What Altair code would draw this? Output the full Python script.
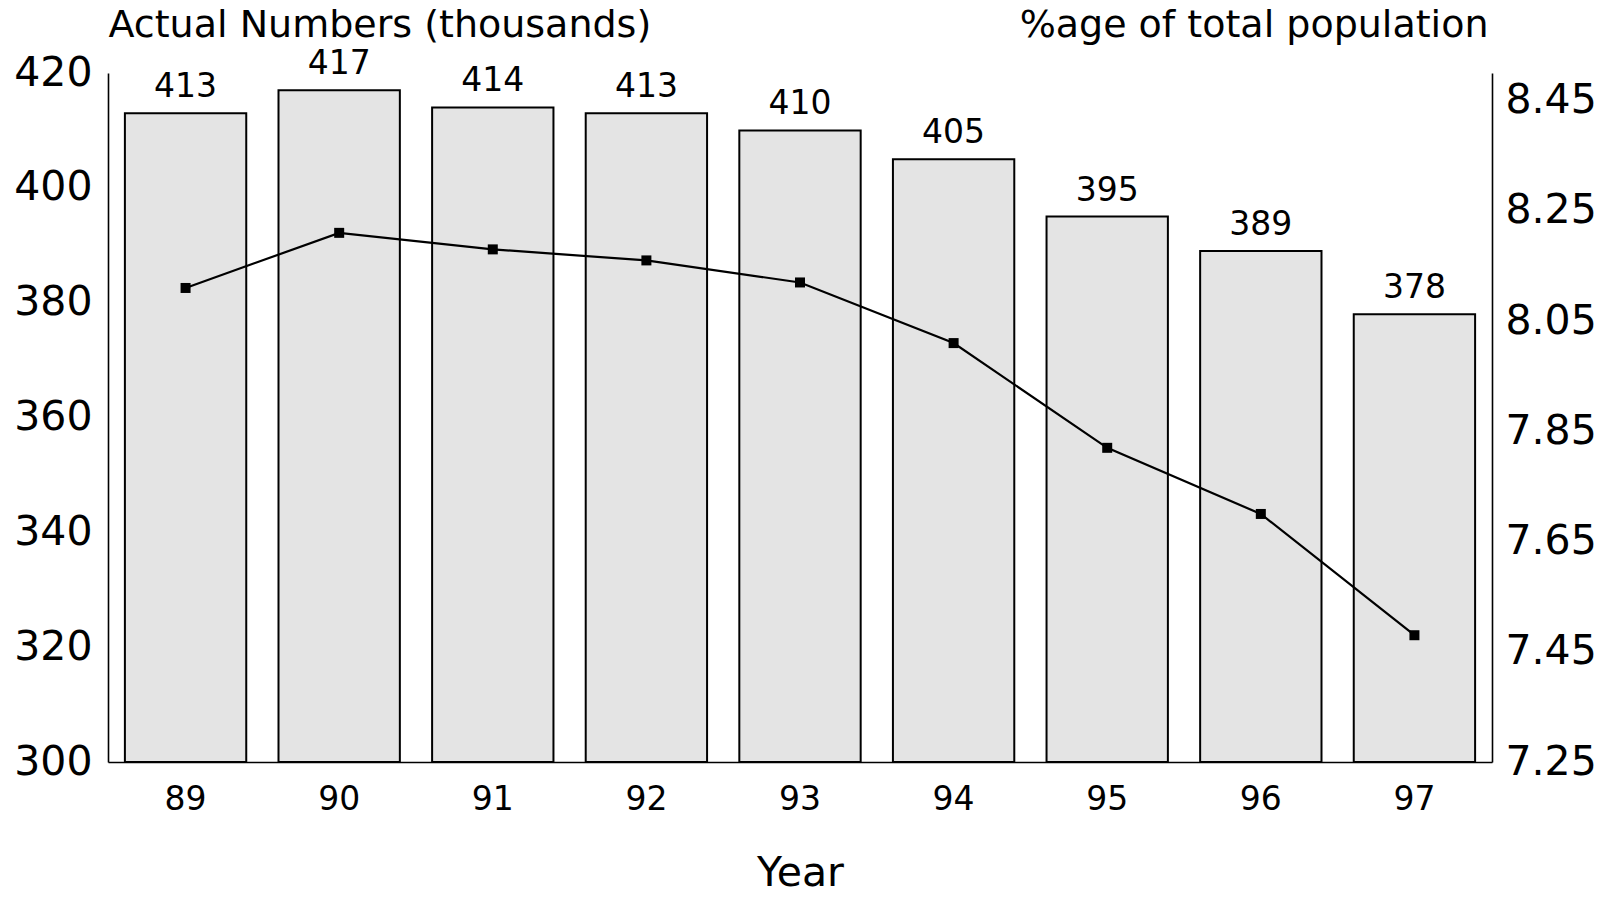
import altair as alt
import pandas as pd

# Year labels, headcount (thousands) and share of total population (%)
years = ["89", "90", "91", "92", "93", "94", "95", "96", "97"]
numbers = [413, 417, 414, 413, 410, 405, 395, 389, 378]
pct = [8.11, 8.21, 8.18, 8.16, 8.12, 8.01, 7.82, 7.70, 7.48]

left_ticks = [300, 320, 340, 360, 380, 400, 420]
right_ticks = [7.25, 7.45, 7.65, 7.85, 8.05, 8.25, 8.45]
left_floor = 300

df = pd.DataFrame({"Year": years, "Numbers": numbers, "Pct": pct})

FONT = "DejaVu Sans"

x_enc = alt.X(
    "Year:N",
    sort=years,
    scale=alt.Scale(paddingInner=0.21, paddingOuter=0.11),
    axis=alt.Axis(
        title="Year",
        labelAngle=0,
        ticks=False,
        tickSize=0,
        labelPadding=37,
        labelBaseline="middle",
        labelFontSize=33,
        titleFontSize=41,
        titleFontWeight="normal",
        titleY=111,
        titleBaseline="middle",
        domainColor="black",
        domainWidth=1.6,
        zindex=1,
    ),
)

left_scale = alt.Scale(domain=[left_floor, 420], nice=False, zero=False)

y_left = alt.Y(
    "Numbers:Q",
    scale=left_scale,
    axis=alt.Axis(
        title="Actual Numbers (thousands)",
        values=left_ticks,
        format="d",
        ticks=False,
        tickSize=0,
        grid=False,
        labelPadding=16,
        labelFontSize=41,
        titleAngle=0,
        titleAlign="left",
        titleBaseline="middle",
        titleX=0,
        titleY=-48,
        titleFontSize=38,
        titleFontWeight="normal",
        domainColor="black",
        domainWidth=1.6,
        zindex=1,
    ),
)

bars = alt.Chart(df).mark_bar(
    fill="#e4e4e4", stroke="black", strokeWidth=2, clip=True
).encode(x=x_enc, y=y_left, y2=alt.datum(left_floor))

bar_labels = alt.Chart(df).mark_text(
    dy=-26, baseline="middle", fontSize=33, font=FONT, color="black"
).encode(
    x=alt.X("Year:N", sort=years),
    y=alt.Y("Numbers:Q", scale=left_scale),
    text=alt.Text("Numbers:Q", format="d"),
)

right_scale = alt.Scale(domain=[7.25, 8.5], nice=False, zero=False)

y_right = alt.Y(
    "Pct:Q",
    scale=right_scale,
    axis=alt.Axis(
        title="%age of total population",
        orient="right",
        values=right_ticks,
        format=".2f",
        ticks=False,
        tickSize=0,
        grid=False,
        labelPadding=13,
        labelFontSize=41,
        titleAngle=0,
        titleAlign="right",
        titleBaseline="middle",
        titleX=-4,
        titleY=-48,
        titleFontSize=38,
        titleFontWeight="normal",
        domainColor="black",
        domainWidth=1.6,
        zindex=1,
    ),
)

line = alt.Chart(df).mark_line(color="black", strokeWidth=2.2).encode(
    x=alt.X("Year:N", sort=years), y=y_right
)

markers = alt.Chart(df).mark_point(
    shape="square", filled=True, color="black", size=100, opacity=1
).encode(
    x=alt.X("Year:N", sort=years),
    y=alt.Y("Pct:Q", scale=right_scale),
)

left = alt.layer(bars, bar_labels)
right = alt.layer(line, markers)

chart = (
    alt.layer(left, right)
    .resolve_scale(y="independent")
    .properties(
        width=1384,
        height=689,
        autosize=alt.AutoSizeParams(type="none"),
        padding={"left": 108, "top": 73, "right": 120, "bottom": 136},
        background="white",
    )
    .configure_view(strokeWidth=0)
    .configure_axis(
        labelFont=FONT, titleFont=FONT, labelColor="black", titleColor="black"
    )
)

chart.save("out.html", embed_options={"renderer": "svg", "actions": False})
